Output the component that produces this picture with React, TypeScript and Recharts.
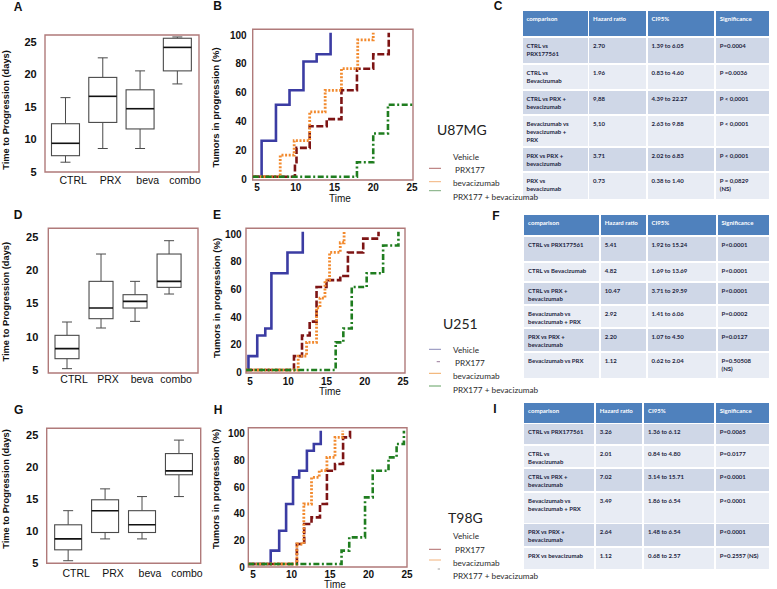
import React from 'react';
import { BarChart, Bar, LineChart, Line, XAxis, YAxis, ReferenceArea } from 'recharts';

const SANS = '"Liberation Sans", Arial, Helvetica, sans-serif';
const CAL = 'Lato, "Open Sans", "DejaVu Sans", sans-serif';

// ---------------- data ----------------
const boxCategories = ['CTRL', 'PRX', 'beva', 'combo'];
const boxTicks = [5, 10, 15, 20, 25];
// [min, Q1, median, Q3, max]
const u87mgBox = [
  [6.5, 7.5, 9.4, 12.4, 16.4],
  [8.6, 12.6, 16.6, 19.5, 22.5],
  [8.6, 11.6, 14.7, 17.6, 20.5],
  [18.5, 20.5, 24.1, 25.5, 25.7],
];
const u251Box = [
  [5.2, 6.7, 8.2, 10.2, 12.2],
  [11.3, 12.7, 14.3, 18.3, 22.4],
  [12.3, 14.3, 15.3, 16.3, 18.3],
  [16.4, 17.4, 18.3, 22.4, 24.4],
];
const t98gBox = [
  [5.4, 7.1, 8.8, 11.0, 13.2],
  [8.8, 9.8, 13.2, 14.9, 16.6],
  [8.8, 9.8, 11.0, 13.2, 15.4],
  [15.4, 18.8, 19.4, 22.1, 24.2],
];

const kmTimeTicks = [5, 10, 15, 20, 25];
const kmPctTicks = [0, 20, 40, 60, 80, 100];
// [time, % tumors in progression]
const u87Vehicle = [[4.45, 0], [5.6, 25], [7.45, 50], [9.2, 60], [11, 80], [12.7, 85], [14.5, 100]];
const u87Prx = [[4.45, 0], [9.9, 10], [10.1, 20], [11.8, 35], [14, 40], [15.9, 60], [17.9, 75], [20, 85], [22, 100]];
const u87Beva = [[4.45, 0], [8, 15], [9.8, 25], [11.8, 45], [13.8, 60], [15.9, 75], [18, 95], [20, 100]];
const u87Combo = [[4.45, 0], [17.9, 10], [20, 30], [21.9, 50], [25.1, 50]];

const u251Vehicle = [[4.5, 0], [4.8, 10], [5.95, 25], [7, 30], [7.8, 70], [9.9, 85], [11.9, 100]];
const u251Prx = [[4.5, 0], [10.75, 10], [11.8, 25], [12.8, 35], [13.7, 60], [15, 65], [16.8, 68], [17.8, 85], [19.8, 95], [21.8, 100]];
const u251Beva = [[4.5, 0], [11.3, 10], [12.4, 20], [13.7, 45], [14.15, 52], [14.8, 65], [15.4, 85], [16.8, 92], [17.3, 100]];
const u251Combo = [[4.5, 0], [16.2, 20], [17.2, 30], [18.3, 60], [20.25, 70], [22.4, 90], [24.4, 100]];

const t98gVehicle = [[4.4, 0], [7.3, 10], [8.4, 25], [9.3, 45], [10.2, 65], [11, 70], [12, 85], [12.9, 90], [13.8, 100]];
const t98gPrx = [[4.4, 0], [10.7, 15], [11.65, 30], [12.6, 35], [13.7, 45], [14.6, 70], [15.65, 75], [16.7, 95], [17.6, 100]];
const t98gBeva = [[4.4, 0], [10.7, 15], [11.6, 45], [12.6, 65], [13.6, 70], [14.6, 80], [15.65, 95], [16.65, 100]];
const t98gCombo = [[4.4, 0], [16.5, 10], [17.5, 20], [19.55, 50], [20.55, 70], [22.6, 80], [23.65, 90], [24.6, 100]];

const seriesNames = ['Vehicle', ' PRX177', 'bevacizumab', 'PRX177 + bevacizumab'];

const tableHeader = ['comparison', 'Hazard ratio', 'CI95%', 'Significance'];
const u87Comparisons = ['CTRL vs\nPRX177561', 'CTRL vs\nBevacizumab', 'CTRL vs PRX +\nbevacizumab', 'Bevacizumab vs\nbevacizumab +\nPRX', 'PRX vs PRX +\nbevacizumab', 'PRX vs\nbevacizumab'];
const u87Hazard = ['2.70', '1.96', '9,88', '5,10', '3.71', '0.73'];
const u87CI = ['1.39 to 6.05', '0.83 to 4.60', '4.39 to 22.27', '2.63 to 9.88', '2.02 to 6.83', '0.38 to 1.40'];
const u87Sig = ['P=0.0004', 'P =0.0036', 'P < 0,0001', 'P < 0,0001', 'P < 0,0001', 'P = 0,0829\n(NS)'];

const u251Comparisons = ['CTRL vs PRX177561', 'CTRL vs Bevacizumab', 'CTRL vs PRX +\nbevacizumab', 'Bevacizumab vs\nbevacizumab + PRX', 'PRX vs PRX +\nbevacizumab', 'Bevacizumab vs PRX'];
const u251Hazard = ['5.41', '4.82', '10.47', '2.92', '2.20', '1.12'];
const u251CI = ['1.92 to 15.24', '1.69 to 13.69', '3.71 to 29.59', '1.41 to 6.06', '1.07 to 4.50', '0.62 to 2.04'];
const u251Sig = ['P<0.0001', 'P<0.0001', 'P<0.0001', 'P=0.0002', 'P=0.0127', 'P=0.50508\n(NS)'];

const t98gComparisons = ['CTRL vs PRX177561', 'CTRL vs\nBevacizumab', 'CTRL vs PRX +\nbevacizumab', 'Bevacizumab vs\nbevacizumab + PRX', 'PRX vs PRX +\nbevacizumab', 'PRX vs bevacizumab'];
const t98gHazard = ['3.26', '2.01', '7.02', '3.49', '2.64', '1.12'];
const t98gCI = ['1.36 to 6.12', '0.84 to 4.80', '3.14 to 15.71', '1.86 to 6.54', '1.48 to 6.54', '0.68 to 2.57'];
const t98gSig = ['P=0.0065', 'P=0.0177', 'P<0.0001', 'P<0.0001', 'P<0.0001', 'P=0.2557 (NS)'];

// ---------------- styles ----------------
const FRAME = '#b07a7a';
const lineStyles = [
  { color: '#3b3ca3', dash: undefined as string | undefined, w: 2.6 },
  { color: '#7d1414', dash: '7 2.5', w: 2.6 },
  { color: '#f28a2e', dash: '2 1.6', w: 2.8 },
  { color: '#1f7d1f', dash: '6 2.5 2 2.5', w: 2.6 },
];

// ---------------- box plot ----------------
function BoxShape(props: any) {
  const { x, y, width, height, payload } = props;
  if (!payload || !payload.stats) return null;
  const [mn, q1, md, q3, mx] = payload.stats as number[];
  const h = Math.abs(height);
  const top = height < 0 ? y + height : y;
  const k = h / (mx - mn);
  const Y = (v: number) => top + (mx - v) * k;
  const cx = x + width / 2;
  const cap = 5;
  const st = '#4a4a4a';
  return (
    <g>
      <line x1={cx} x2={cx} y1={Y(mx)} y2={Y(q3)} stroke={st} strokeWidth={1} />
      <line x1={cx} x2={cx} y1={Y(q1)} y2={Y(mn)} stroke={st} strokeWidth={1} />
      <line x1={cx - cap} x2={cx + cap} y1={Y(mx)} y2={Y(mx)} stroke={st} strokeWidth={1} />
      <line x1={cx - cap} x2={cx + cap} y1={Y(mn)} y2={Y(mn)} stroke={st} strokeWidth={1} />
      <rect x={x} y={Y(q3)} width={width} height={Y(q1) - Y(q3)} fill="#fff" stroke={st} strokeWidth={1.1} />
      <line x1={x} x2={x + width} y1={Y(md)} y2={Y(md)} stroke="#111" strokeWidth={1.6} />
    </g>
  );
}

const CatTick = (props: any) => {
  const { x, y, payload, dx, dy } = props;
  return (
    <text x={x + dx} y={y + dy} textAnchor="middle" dominantBaseline="central" fontFamily={SANS} fontSize={10.5} fill="#111">
      {boxCategories[payload.value]}
    </text>
  );
};

const NumYTick = (props: any) => {
  const { x, y, payload, gap, dy, size } = props;
  return (
    <text x={x - gap} y={y + dy} textAnchor="end" dominantBaseline="central" fontFamily={SANS} fontSize={size} fontWeight="bold" fill="#111">
      {payload.value}
    </text>
  );
};

const NumXTick = (props: any) => {
  const { x, y, payload, dy } = props;
  return (
    <text x={x} y={y + dy} textAnchor="middle" dominantBaseline="central" fontFamily={SANS} fontSize={10} fontWeight="bold" fill="#111">
      {payload.value}
    </text>
  );
};

const boxPanels = [
  { stats: u87mgBox, left: 0, top: 0, width: 205, height: 195, mTop: 35, mRight: 6, yW: 45, xH: 23, domain: [5, 26], xDomain: [-0.54, 3.59], barSize: 28, dx: 8, dy: 8, gap: 8.3 },
  { stats: u251Box, left: 0, top: 195, width: 205, height: 195, mTop: 33.3, mRight: 7, yW: 48.3, xH: 17, domain: [4.55, 26.26], xDomain: [-0.55, 3.85], barSize: 24, dx: 7, dy: 6, gap: 10 },
  { stats: t98gBox, left: 0, top: 390, width: 205, height: 199, mTop: 38.3, mRight: 4.3, yW: 46.7, xH: 25.7, domain: [5, 26.04], xDomain: [-0.58, 3.59], barSize: 27, dx: 8, dy: 9.4, gap: 8.4 },
];

function BoxPanel({ p }: { p: any }) {
  const rows = boxCategories.map((name, i) => ({ pos: i, name, stats: p.stats[i], range: [p.stats[i][0], p.stats[i][4]] }));
  return (
    <div style={{ position: 'absolute', left: p.left, top: p.top }}>
      <BarChart width={p.width} height={p.height} data={rows} margin={{ top: p.mTop, right: p.mRight, bottom: 0, left: 0 }}>
        <XAxis dataKey="pos" type="number" domain={p.xDomain} allowDataOverflow ticks={[0, 1, 2, 3]} height={p.xH}
          axisLine={false} tickLine={false} tickSize={0} tickMargin={0} interval={0}
          tick={<CatTick dx={p.dx} dy={p.dy} />} />
        <YAxis type="number" domain={p.domain} allowDataOverflow ticks={boxTicks} width={p.yW}
          axisLine={false} tickLine={false} tickSize={0} tickMargin={0} interval={0}
          tick={<NumYTick gap={p.gap} dy={0} size={11} />} />
        <ReferenceArea y1={p.domain[0]} y2={p.domain[1]} fill="none" stroke={FRAME} strokeWidth={1.4} ifOverflow="visible" />
        <Bar dataKey="range" barSize={p.barSize} isAnimationActive={false} shape={(sp: any) => <BoxShape {...sp} />} />
      </BarChart>
    </div>
  );
}

// ---------------- KM curves ----------------
const kmPanels = [
  { series: [u87Vehicle, u87Prx, u87Beva, u87Combo], left: 200, top: 0, width: 220, height: 205, mTop: 29.3, mRight: 7, yW: 52.7, xH: 25, xDomain: [4.45, 25.13], yDomain: [-2.29, 102.36], gap: 6, ydy: 2.5, xdy: 7.5 },
  { series: [u251Vehicle, u251Prx, u251Beva, u251Combo], left: 200, top: 200, width: 215, height: 200, mTop: 28.3, mRight: 10, yW: 46, xH: 27, xDomain: [4.48, 25.26], yDomain: [-2.17, 102.46], gap: 4.3, ydy: 2.6, xdy: 8 },
  { series: [t98gVehicle, t98gPrx, t98gBeva, t98gCombo], left: 200, top: 400, width: 215, height: 189, mTop: 27.7, mRight: 8, yW: 48.3, xH: 22, xDomain: [4.39, 25.0], yDomain: [-2.25, 102.25], gap: 3.5, ydy: 3, xdy: 7 },
];

function KmPanel({ p }: { p: any }) {
  return (
    <div style={{ position: 'absolute', left: p.left, top: p.top }}>
      <LineChart width={p.width} height={p.height} margin={{ top: p.mTop, right: p.mRight, bottom: 0, left: 0 }}>
        <XAxis dataKey="t" type="number" domain={p.xDomain} allowDataOverflow ticks={kmTimeTicks} height={p.xH}
          axisLine={false} tickLine={false} tickSize={0} tickMargin={0} interval={0}
          tick={<NumXTick dy={p.xdy} />} />
        <YAxis type="number" domain={p.yDomain} allowDataOverflow ticks={kmPctTicks} width={p.yW}
          axisLine={false} tickLine={false} tickSize={0} tickMargin={0} interval={0}
          tick={<NumYTick gap={p.gap} dy={p.ydy} size={10} />} />
        <ReferenceArea y1={p.yDomain[0]} y2={p.yDomain[1]} fill="none" stroke={FRAME} strokeWidth={1.4} ifOverflow="visible" />
        {p.series.map((s: number[][], i: number) => (
          <Line key={i} data={s.map(([t, v]) => ({ t, v }))} dataKey="v" type="stepAfter"
            stroke={lineStyles[i].color} strokeWidth={lineStyles[i].w} strokeDasharray={lineStyles[i].dash}
            dot={false} activeDot={false} isAnimationActive={false} />
        ))}
      </LineChart>
    </div>
  );
}

// ---------------- tables ----------------
const tables = [
  { cols: [521.7, 588.3, 646.7, 715, 770], rows: [10, 37.3, 64, 90, 115, 146.7, 171.7, 200], comps: u87Comparisons, hr: u87Hazard, ci: u87CI, sig: u87Sig },
  { cols: [523.3, 600, 646.7, 716.7, 770], rows: [214, 236, 261.7, 281.7, 305, 328.3, 351.7, 378.3], comps: u251Comparisons, hr: u251Hazard, ci: u251CI, sig: u251Sig },
  { cols: [523.3, 595, 643.3, 715, 770], rows: [401.7, 423.3, 445, 468.3, 491.7, 523.3, 546.7, 570], comps: t98gComparisons, hr: t98gHazard, ci: t98gCI, sig: t98gSig },
];

function HazardTable({ t }: { t: any }) {
  const body: string[][] = [tableHeader, ...t.comps.map((c: string, i: number) => [c, t.hr[i], t.ci[i], t.sig[i]])];
  const cells: React.ReactNode[] = [];
  body.forEach((row, r) =>
    row.forEach((txt, c) => {
      cells.push(
        <div key={r + '-' + c} style={{
          position: 'absolute', left: t.cols[c] + 0.8, top: t.rows[r] + 0.8,
          width: t.cols[c + 1] - t.cols[c] - 1.6, height: t.rows[r + 1] - t.rows[r] - 1.6,
          background: r === 0 ? '#4f81bd' : r % 2 === 1 ? '#cfd7e7' : '#e8ecf4',
          color: r === 0 ? '#ffffff' : '#1d2541', fontFamily: CAL, fontWeight: 700, fontSize: 6,
          lineHeight: '8px', padding: '4px 0 0 4px', boxSizing: 'border-box', whiteSpace: 'pre', overflow: 'hidden',
        }}>{txt}</div>
      );
    })
  );
  return <>{cells}</>;
}

// ---------------- labels / legends ----------------
const panelLetters = [
  ['A', 18, 7], ['B', 217.5, 6], ['C', 498, 6], ['D', 18, 215], ['E', 217, 215], ['F', 496, 216], ['G', 18.7, 410], ['H', 218, 410], ['I', 495, 408.5],
];
const cellLines = [['U87MG', 437, 135], ['U251', 443, 328.5], ['T98G', 448, 523]];

const legends = [
  { baselines: [159.5, 173, 186, 199.5], lines: [null, [429, 441, 168.3, '#b06a6a'], [429, 441, 181.7, '#f2b27a'], [429, 441, 190.7, '#7aaa7a']] },
  { baselines: [352.5, 366, 378.8, 392.5], lines: [[429, 441, 349.3, '#8a8ab8'], [436.7, 440, 361.7, '#9a7a9a'], [429, 441, 373.3, '#f0a860'], [429, 441, 386, '#60a060']] },
  { baselines: [539, 552.5, 565.5, 578.5], lines: [null, [429, 441, 549.3, '#b06a6a'], [429, 441, 560, '#f2b27a'], [437.7, 440, 569, '#a0a0a0']] },
];

export default function App() {
  return (
    <div style={{ position: 'absolute', left: 0, top: 0, width: 777, height: 589, background: '#fff', overflow: 'hidden', fontFamily: SANS }}>
      {boxPanels.map((p, i) => <BoxPanel key={'b' + i} p={p} />)}
      {kmPanels.map((p, i) => <KmPanel key={'k' + i} p={p} />)}
      {tables.map((t, i) => <HazardTable key={'t' + i} t={t} />)}
      <svg width={777} height={589} style={{ position: 'absolute', left: 0, top: 0, pointerEvents: 'none' }}>
        {panelLetters.map(([l, x, y]) => (
          <text key={l as string} x={x as number} y={y as number} textAnchor="middle" dominantBaseline="central" fontFamily={SANS} fontWeight="bold" fontSize={12} fill="#111">{l}</text>
        ))}
        {[110, 301.7, 489].map((cy, i) => (
          <text key={'yt' + i} transform={`translate(6,${cy}) rotate(-90)`} textAnchor="middle" dominantBaseline="central" fontFamily={SANS} fontWeight="bold" fontSize={9.3} fill="#111">Time to Progression (days)</text>
        ))}
        {[[215.5, 107.5], [216.3, 298], [215.8, 489]].map(([cx, cy], i) => (
          <text key={'kt' + i} transform={`translate(${cx},${cy}) rotate(-90)`} textAnchor="middle" dominantBaseline="central" fontFamily={SANS} fontWeight="bold" fontSize={9.5} fill="#111">Tumors in progression (%)</text>
        ))}
        {[[340, 198.5], [330, 391.5], [335, 584.3]].map(([cx, cy], i) => (
          <text key={'tm' + i} x={cx} y={cy} textAnchor="middle" dominantBaseline="central" fontFamily={SANS} fontSize={10} fill="#111">Time</text>
        ))}
        {cellLines.map(([n, x, y]) => (
          <text key={n as string} x={x as number} y={y as number} fontFamily={CAL} fontSize={14} fill="#222">{n}</text>
        ))}
        {legends.map((lg, li) => (
          <g key={'lg' + li}>
            {lg.lines.map((ln: any, k: number) => ln ? <line key={'l' + k} x1={ln[0]} x2={ln[1]} y1={ln[2]} y2={ln[2]} stroke={ln[3]} strokeWidth={1} /> : null)}
            {seriesNames.map((s, k) => (
              <text key={'s' + k} x={453} y={lg.baselines[k]} fontFamily={CAL} fontSize={8.2} fill="#2a2a2a" style={{ whiteSpace: 'pre' }}>{s}</text>
            ))}
          </g>
        ))}
      </svg>
    </div>
  );
}
